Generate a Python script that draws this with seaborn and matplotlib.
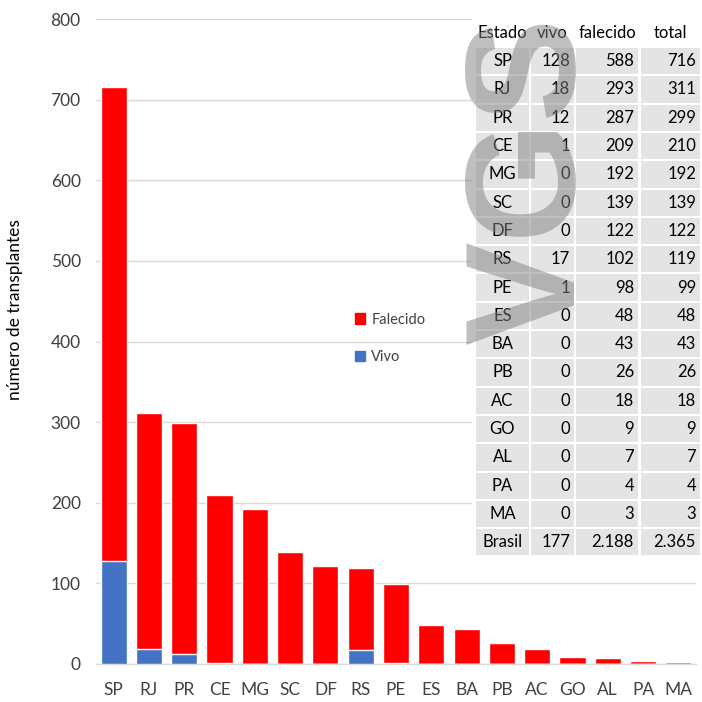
import matplotlib
matplotlib.use("Agg")
import matplotlib.pyplot as plt
import seaborn as sns
import pandas as pd
from matplotlib.patches import Patch, Rectangle

estados = ["SP", "RJ", "PR", "CE", "MG", "SC", "DF", "RS", "PE", "ES",
           "BA", "PB", "AC", "GO", "AL", "PA", "MA"]
vivo = [128, 18, 12, 1, 0, 0, 0, 17, 1, 0, 0, 0, 0, 0, 0, 0, 0]
falecido = [588, 293, 287, 209, 192, 139, 122, 102, 98, 48, 43, 26, 18, 9, 7, 4, 3]
total = [v + f for v, f in zip(vivo, falecido)]
yticks = [0, 100, 200, 300, 400, 500, 600, 700, 800]

RED = "#FF0000"
BLUE = "#4472C4"
GRID = "#D9D9D9"
TXT = "#404040"

sns.set_theme(style="white")
plt.rcParams["font.family"] = ["Lato", "DejaVu Sans"]

W = H = 702
fig = plt.figure(figsize=(W / 100, H / 100), dpi=100)
ax = fig.add_axes([96 / W, 1 - 664 / H, 600 / W, 645 / H])

df = pd.DataFrame({"estado": estados, "vivo": vivo, "falecido": falecido, "total": total})
sns.barplot(data=df, x="estado", y="total", color=RED, saturation=1, width=0.74, ax=ax, zorder=2)
sns.barplot(data=df, x="estado", y="vivo", color=BLUE, saturation=1, width=0.74, ax=ax, zorder=3)

ax.set_ylim(0, 800)
ax.set_xlim(-0.5, len(estados) - 0.5)
ax.set_yticks(yticks)
ax.yaxis.grid(True, color=GRID, linewidth=1, zorder=0)
ax.set_axisbelow(True)
for s in ["top", "right", "left"]:
    ax.spines[s].set_visible(False)
ax.spines["bottom"].set_color(GRID)
ax.spines["bottom"].set_linewidth(1)
ax.tick_params(axis="y", length=0, pad=11, labelsize=12.5, labelcolor=TXT)
ax.tick_params(axis="x", length=0, pad=13, labelsize=12.5, labelcolor=TXT)
ax.set_xlabel("")
ax.set_ylabel("número de transplantes", fontsize=12.5, color="#000000")
ax.yaxis.set_label_coords(-0.122, 0.549)

handles = [Patch(color=RED, label="Falecido"), Patch(color=BLUE, label="Vivo")]
ax.legend(handles=handles, loc="center left", bbox_to_anchor=(0.41, 0.505),
          frameon=False, fontsize=10.5, handlelength=0.7, handleheight=0.7,
          labelspacing=1.6, handletextpad=0.4, labelcolor=TXT)

# table
def fx(x):
    return x / W

def fy(y):
    return 1 - y / H

cols = [(476, 529), (531, 574), (576, 638), (641, 700)]
header = ["Estado", "vivo", "falecido", "total"]
row_top0 = 48.0
row_h = 28.3
cell_h = 26.3
CELL = "#E4E4E4"
FS = 12

fig.add_artist(Rectangle((fx(472), fy(560)), fx(702) - fx(472), fy(18) - fy(560),
                         transform=fig.transFigure, facecolor="white", edgecolor="none", zorder=4))

for (x0, x1), h in zip(cols, header):
    fig.text(fx((x0 + x1) / 2), fy(33), h, ha="center", va="center", fontsize=FS,
             color="#000000", zorder=6)

def fmt(n):
    return f"{n:,}".replace(",", ".")

rows = [[e, fmt(v), fmt(f), fmt(t)] for e, v, f, t in zip(estados, vivo, falecido, total)]
rows.append(["Brasil", fmt(sum(vivo)), fmt(sum(falecido)), fmt(sum(total))])

for i, r in enumerate(rows):
    top = row_top0 + i * row_h
    yc = top + cell_h / 2
    for j, ((x0, x1), val) in enumerate(zip(cols, r)):
        fig.add_artist(Rectangle((fx(x0), fy(top + cell_h)), fx(x1) - fx(x0), fy(top) - fy(top + cell_h),
                                 transform=fig.transFigure, facecolor=CELL, edgecolor="none", zorder=5))
        if j == 0:
            fig.text(fx((x0 + x1) / 2), fy(yc), val, ha="center", va="center", fontsize=FS,
                     color="#000000", zorder=6)
        else:
            fig.text(fx(x1 - 4), fy(yc), val, ha="right", va="center", fontsize=FS,
                     color="#000000", zorder=6)

# watermark
fig.text(fx(533), fy(180), "VGS", rotation=90, ha="center", va="center",
         fontsize=112, fontweight="bold", color="#808080", alpha=0.5,
         family=["Liberation Sans Narrow", "Liberation Sans", "DejaVu Sans"], zorder=7)

fig.savefig("out.png", dpi=100)
